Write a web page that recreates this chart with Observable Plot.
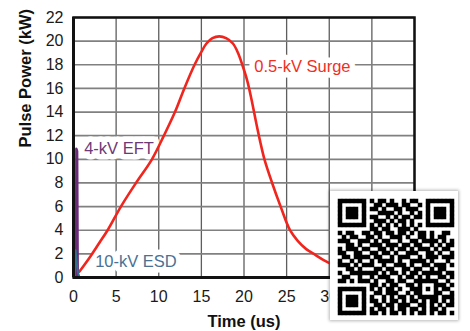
<!DOCTYPE html>
<html><head><meta charset="utf-8">
<script src="https://cdn.jsdelivr.net/npm/d3@7"></script>
<script src="https://cdn.jsdelivr.net/npm/@observablehq/plot@0.6"></script>
<style>
body{margin:0;background:#fff}
#wrap{position:relative;width:470px;height:331px;overflow:hidden;background:#fff}
#qr{position:absolute;left:330px;top:191px;width:128px;height:129px;background:#fff;box-shadow:0 0 3px 1px rgba(0,0,0,0.28)}
</style></head>
<body><div id="wrap"><div id="chart"></div><div id="qr"></div></div>
<script>
// ---- data ----
const xTicks = [0, 5, 10, 15, 20, 25, 30, 35, 40];
const yTicks = [0, 2, 4, 6, 8, 10, 12, 14, 16, 18, 20, 22];

// 0.5-kV Surge (time in us, power in kW)
const surgeT = [0.7, 2, 3, 4, 5.56, 7.33, 9.2, 10.6, 11.9, 13.0, 14.2, 15.0, 15.6, 16.3, 17.1, 17.9, 18.7, 19.3, 19.8, 20.4, 20.9, 21.4, 21.9, 22.4, 23.3, 24.3, 25.4, 26.3, 27.3, 28.4, 29.4, 30.4, 32, 34, 36, 38, 40];
const surgeP = [0.5, 1.8, 2.9, 4.0, 6.0, 8.0, 10.0, 12.0, 14.0, 16.0, 18.0, 19.1, 19.8, 20.25, 20.4, 20.25, 19.8, 19.0, 18.0, 16.6, 15.0, 13.2, 11.5, 10.0, 8.0, 6.0, 4.0, 3.1, 2.4, 1.9, 1.45, 1.1, 0.75, 0.45, 0.3, 0.2, 0.12];

// 4-kV EFT
const eftT = [0.3, 0.33, 0.43, 0.5];
const eftP = [0, 10.9, 10.7, 0];

// 10-kV ESD
const esdT = [0.15, 0.25, 0.35, 0.5, 0.7];
const esdP = [0, 2.3, 1.4, 0.5, 0];

// annotations
const labelText = ["0.5-kV Surge", "4-kV EFT", "10-kV ESD"];
const labelX = [21.2, 1.25, 2.54];
const labelY = [17.85, 10.93, 1.34];
const labelColor = ["#f0301f", "#6d3a78", "#4a7193"];

// QR code overlay (modules, 1 = black)
const qrRows = [
"1111111 0 1011010010110 0 1111111",
"1000001 0 0110111011001 0 1000001",
"1011101 0 1101001101110 0 1011101",
"1011101 0 0011110100101 0 1011101",
"1011101 0 1100101011011 0 1011101",
"1000001 0 0111010110100 0 1000001",
"1111111 0 1010101010101 0 1111111",
"0000000 0 1101100111010 0 0000000",
"10110011011011011010110100110",
"010110 0 1101001110100110101100",
"111001 1 1010110010011011110101",
"001101 0 0111011101101100101011",
"101110 1 1001101011010111010110",
"110011 0 0110110100111001101001",
"011011 1 1011001011100101110111",
"100101 0 0101111010011110100010",
"111010 1 1100100111010011011101",
"001101 0 0011011001101100101100",
"100111 1 1110101101011011111011",
"011001 0 0101110010110101001101",
"110101 1 1010011011001 11111 0010",
"00000000 110101100110 10001 1101",
"1111111 0 101011010011 10101 0110",
"1000001 0 011011100101 10001 1001",
"1011101 0 100101011010 11111 0111",
"1011101 0 110101101011010110101",
"1011101 0 011011011100110101011",
"1000001 0 101101011011010110100",
"1111111 0 110101101010110101101"
];

// ---- build ----
const surge = surgeT.map((t, i) => ({t, p: surgeP[i]}));
const eft = eftT.map((t, i) => ({t, p: eftP[i]}));
const esd = esdT.map((t, i) => ({t, p: esdP[i]}));
const labels = labelText.map((s, i) => ({s, x: labelX[i], y: labelY[i], c: labelColor[i]}));

const FONT = "'Liberation Sans', Arial, Helvetica, sans-serif";

const chart = Plot.plot({
  width: 470, height: 331,
  marginLeft: 73, marginRight: 56, marginTop: 17, marginBottom: 54,
  style: {fontFamily: FONT, background: "white", color: "#1a1a1a"},
  x: {domain: [0, 40]},
  y: {domain: [0, 22]},
  marks: [
    Plot.gridX(xTicks, {stroke: "#5e5e5e", strokeOpacity: 1, strokeWidth: 1.3}),
    Plot.gridY(yTicks, {stroke: "#808080", strokeOpacity: 1, strokeWidth: 1.7}),
    Plot.text(labels, {x: "x", y: "y", text: "s", fill: "c", textAnchor: "start", fontSize: 16.5, fontFamily: FONT, stroke: "white", strokeWidth: 11, strokeLinejoin: "round"}),
    Plot.line(surge, {x: "t", y: "p", stroke: "#f0261e", strokeWidth: 2.6, curve: "catmull-rom"}),
    Plot.line(eft, {x: "t", y: "p", stroke: "#6a2c78", strokeWidth: 2.4}),
    Plot.line(esd, {x: "t", y: "p", stroke: "#2f6f8f", strokeWidth: 2}),
    Plot.frame({stroke: "#111", strokeWidth: 2.5}),
    Plot.ruleX([0], {stroke: "#111", strokeWidth: 3}),
    Plot.ruleY([0], {stroke: "#111", strokeWidth: 3}),
    Plot.axisY(yTicks, {tickSize: 0, tickPadding: 10, fontSize: 16, label: null}),
    Plot.axisX(xTicks, {tickSize: 0, tickPadding: 13, fontSize: 16, label: null}),
    Plot.text(["Time (us)"], {text: d => d, frameAnchor: "bottom", dy: 49, fontWeight: "bold", fontSize: 16.5, fontFamily: FONT, fill: "#111"}),
    Plot.text(["Pulse Power (kW)"], {text: d => d, frameAnchor: "left", dx: -48, rotate: -90, fontWeight: "bold", fontSize: 16.5, fontFamily: FONT, fill: "#111"})
  ]
});
document.getElementById("chart").appendChild(chart);

const qrCells = [];
qrRows.forEach((row, r) => {
  row.replace(/ /g, "").split("").forEach((ch, c) => { if (ch === "1") qrCells.push({r, c}); });
});
const qrIdx = qrRows.map((_, i) => i);
const qr = Plot.plot({
  width: 128, height: 129,
  marginLeft: 5, marginRight: 1.5, marginTop: 4, marginBottom: 1,
  style: {background: "white"},
  x: {type: "band", domain: qrIdx, padding: 0, axis: null},
  y: {type: "band", domain: qrIdx, padding: 0, axis: null},
  marks: [Plot.cell(qrCells, {x: "c", y: "r", fill: "black", inset: -0.25})]
});
document.getElementById("qr").appendChild(qr);
</script>
</body></html>
